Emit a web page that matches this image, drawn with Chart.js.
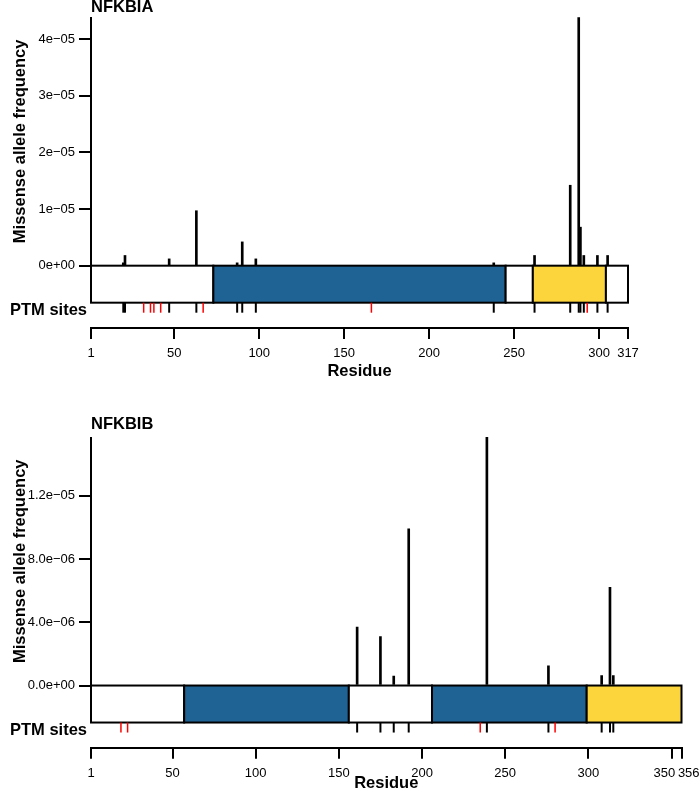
<!DOCTYPE html>
<html>
<head>
<meta charset="utf-8">
<script src="https://cdn.jsdelivr.net/npm/chart.js@4.4.1/dist/chart.umd.min.js"></script>
<style>
  body { margin: 0; background: #fff; }
  canvas { position: absolute; left: 0; }
  #top { top: 0; }
  #bot { top: 398px; }
</style>
</head>
<body>
<canvas id="top" width="700" height="395"></canvas>
<canvas id="bot" width="700" height="395"></canvas>
<script>
// NFKBIA - missense variants
const naPos = [20, 21, 47, 63, 87, 90, 98, 238, 262, 283, 288, 289, 291, 299, 305];
const naFreq = [0.5e-6, 1.8e-6, 1.2e-6, 9.7e-6, 0.5e-6, 4.2e-6, 1.2e-6, 0.5e-6, 1.8e-6, 1.42e-5, 4.38e-5, 6.8e-6, 1.8e-6, 1.8e-6, 1.8e-6];
const naPtm = [32, 36, 38, 42, 67, 166, 293];
const naDomStart = [1, 73, 245, 261, 304];
const naDomEnd = [73, 245, 261, 304, 317];
const naDomKind = ['none', 'ank', 'none', 'pest', 'none'];
const naXTicks = [1, 50, 100, 150, 200, 250, 300, 317];
const naXLabels = ['1', '50', '100', '150', '200', '250', '300', '317'];
const naYTicks = [0, 1e-5, 2e-5, 3e-5, 4e-5];
const naYLabels = ['0e+00', '1e\u221205', '2e\u221205', '3e\u221205', '4e\u221205'];

// NFKBIB - missense variants
const nbPos = [161, 175, 183, 192, 239, 276, 308, 313, 315];
const nbFreq = [3.7e-6, 3.1e-6, 0.6e-6, 9.9e-6, 1.57e-5, 1.24e-6, 0.63e-6, 6.2e-6, 0.63e-6];
const nbPtm = [19, 23, 235, 280];
const nbDomStart = [1, 57, 156, 206, 299];
const nbDomEnd = [57, 156, 206, 299, 356];
const nbDomKind = ['none', 'ank', 'none', 'ank', 'pest'];
const nbXTicks = [1, 50, 100, 150, 200, 250, 300, 350, 356];
// the last two labels sit side by side, spaces push them apart
const nbXLabels = ['1', '50', '100', '150', '200', '250', '300', '350    ', '    356'];
const nbYTicks = [0, 4e-6, 8e-6, 1.2e-5];
const nbYLabels = ['0.0e+00', '4.0e\u221206', '8.0e\u221206', '1.2e\u221205'];

const FONT = '"Liberation Sans", Arial, Helvetica, sans-serif';
const kindColor = { none: '#ffffff', ank: '#1f6395', pest: '#fcd43b' };
const BOX_H = 37;
const PTM_H = 10;

// boxes, ptm ticks and the titles
const panelPlugin = {
  id: 'panel',
  afterDatasetsDraw(chart, args, o) {
    const { ctx, chartArea, scales: { x, y } } = chart;
    const y0 = y.getPixelForValue(0);
    const yb = y0 + BOX_H;
    ctx.save();
    // domains
    ctx.lineWidth = 2;
    ctx.strokeStyle = '#000';
    o.start.forEach((s, i) => {
      const x1 = x.getPixelForValue(s);
      const x2 = x.getPixelForValue(o.end[i]);
      ctx.fillStyle = kindColor[o.kind[i]];
      ctx.fillRect(x1, y0, x2 - x1, BOX_H);
      ctx.strokeRect(x1, y0, x2 - x1, BOX_H);
    });
    // variant ticks under the box
    ctx.lineWidth = 2;
    o.pos.forEach(p => {
      const px = x.getPixelForValue(p);
      ctx.beginPath(); ctx.moveTo(px, yb); ctx.lineTo(px, yb + PTM_H); ctx.stroke();
    });
    ctx.strokeStyle = '#ff0000';
    ctx.lineWidth = 1.5;
    o.ptm.forEach(p => {
      const px = x.getPixelForValue(p);
      ctx.beginPath(); ctx.moveTo(px, yb); ctx.lineTo(px, yb + PTM_H); ctx.stroke();
    });
    // y axis line
    ctx.strokeStyle = '#000';
    ctx.lineWidth = 2;
    ctx.beginPath(); ctx.moveTo(chartArea.left, chartArea.top); ctx.lineTo(chartArea.left, yb); ctx.stroke();
    // texts
    ctx.fillStyle = '#000';
    ctx.font = 'bold 16.5px ' + FONT;
    ctx.textAlign = 'left';
    ctx.textBaseline = 'alphabetic';
    ctx.fillText(o.gene, chartArea.left, o.geneY);
    ctx.textAlign = 'right';
    ctx.textBaseline = 'middle';
    ctx.fillText('PTM sites', 87, yb + 8);
    ctx.textAlign = 'center';
    ctx.fillText('Residue', (chartArea.left + chartArea.right) / 2, chartArea.bottom + o.titleOff);
    ctx.translate(20, (chartArea.top + y0) / 2);
    ctx.rotate(-Math.PI / 2);
    ctx.fillText('Missense allele frequency', 0, 0);
    ctx.restore();
  }
};

const crearPanel = (id, cfg) => {
  new Chart(document.getElementById(id), {
    type: 'bar',
    data: {
      datasets: [{
        data: cfg.pos.map((p, i) => ({ x: p, y: cfg.freq[i] })),
        backgroundColor: '#000',
        barThickness: 2
      }]
    },
    options: {
      responsive: false,
      animation: false,
      layout: { padding: { top: cfg.padTop, right: cfg.padRight, left: 0, bottom: 0 } },
      plugins: {
        legend: { display: false },
        tooltip: { enabled: false },
        panel: {
          gene: cfg.gene, geneY: cfg.geneY, titleOff: cfg.titleOff,
          pos: cfg.pos, ptm: cfg.ptm, start: cfg.start, end: cfg.end, kind: cfg.kind
        }
      },
      scales: {
        x: {
          type: 'linear',
          min: cfg.xTicks[0],
          max: cfg.xTicks[cfg.xTicks.length - 1],
          offset: false,
          afterFit: s => {
            s.height = cfg.xHeight;
            s.paddingLeft = 0;
            s.paddingRight = 0;
          },
          afterBuildTicks: s => { s.ticks = cfg.xTicks.map(v => ({ value: v })); },
          grid: { offset: false, drawOnChartArea: false, drawTicks: true, tickLength: 11, color: '#000', lineWidth: 2 },
          border: { display: true, color: '#000', width: 2 },
          ticks: {
            autoSkip: false, maxRotation: 0, padding: 7, color: '#000',
            font: { family: FONT, size: 13 },
            callback: (v, i) => cfg.xLabels[i]
          }
        },
        y: {
          min: cfg.yMin,
          max: cfg.yMax,
          afterFit: s => { s.width = 91; },
          afterBuildTicks: s => { s.ticks = cfg.yTicks.map(v => ({ value: v })); },
          grid: { drawOnChartArea: false, drawTicks: true, tickLength: 12, color: '#000', lineWidth: 2 },
          border: { display: false },
          ticks: {
            padding: 4, color: '#000',
            font: { family: FONT, size: 13 },
            callback: (v, i) => cfg.yLabels[i]
          }
        }
      }
    },
    plugins: [panelPlugin]
  });
};

crearPanel('top', {
  gene: 'NFKBIA', geneY: 12, titleOff: 43,
  pos: naPos, freq: naFreq, ptm: naPtm,
  start: naDomStart, end: naDomEnd, kind: naDomKind,
  xTicks: naXTicks, xLabels: naXLabels, yTicks: naYTicks, yLabels: naYLabels,
  yMin: -1.1e-5, yMax: 4.39e-5,
  padTop: 17, padRight: 72, xHeight: 67
});

crearPanel('bot', {
  gene: 'NFKBIB', geneY: 30.5, titleOff: 36,
  pos: nbPos, freq: nbFreq, ptm: nbPtm,
  start: nbDomStart, end: nbDomEnd, kind: nbDomKind,
  xTicks: nbXTicks, xLabels: nbXLabels, yTicks: nbYTicks, yLabels: nbYLabels,
  yMin: -3.93e-6, yMax: 1.571e-5,
  padTop: 39, padRight: 18.5, xHeight: 45.3
});
</script>
</body>
</html>
